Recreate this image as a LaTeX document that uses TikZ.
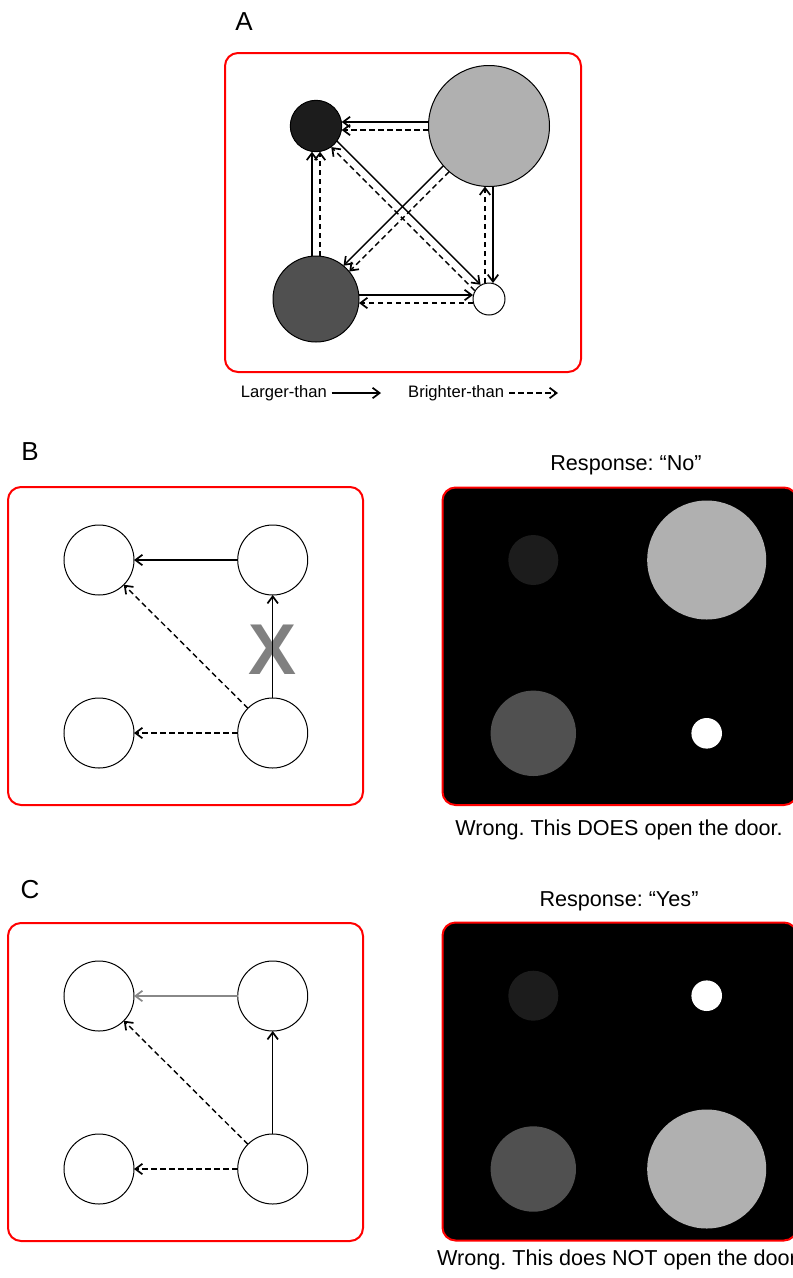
\documentclass[tikz,border=0pt]{standalone}
\usepackage{fontspec}
\setmainfont{Liberation Sans}
\usetikzlibrary{arrows.meta}
\definecolor{shadeA}{HTML}{1C1C1C}
\definecolor{shadeB}{HTML}{B0B0B0}
\definecolor{shadeC}{HTML}{505050}
\definecolor{xgray}{HTML}{808080}
\definecolor{fadedarrow}{HTML}{888888}
\frenchspacing
\begin{document}
\begin{tikzpicture}[x=1pt,y=-1pt,
  frame/.style={draw=red, line width=2pt, rounded corners=13pt},
  ball/.style={circle, draw=black, line width=1pt, inner sep=0pt, outer sep=0pt, minimum size=#1},
  dot/.style={circle, draw=none, inner sep=0pt, outer sep=0pt, minimum size=#1},
  larger/.style={draw, line width=1.4pt, -{Straight Barb[length=7pt,width=10.5pt,line width=1.7pt]}},
  brighter/.style={larger, dash pattern=on 5.5pt off 3.5pt},
  panellabel/.style={font=\fontsize{26}{30}\selectfont, inner sep=0pt},
  legendtext/.style={font=\fontsize{16.6}{20}\selectfont, inner sep=0pt},
  caption/.style={font=\fontsize{21.6}{26}\selectfont, inner sep=0pt}
]
\useasboundingbox (0,0) rectangle (793,1278);

% ---------------- Panel A: relation graph ----------------
\node[panellabel] (labA) at (244,22) {A};
\draw[frame] (225,53) rectangle (581,372);
\node[ball=51.4, fill=shadeA] (a1) at (316,126) {};
\node[ball=121, fill=shadeB] (a2) at (489,126) {};
\node[ball=86, fill=shadeC] (a3) at (316,299) {};
\node[ball=32, fill=white] (a4) at (489,299) {};

\draw[larger,   transform canvas={shift={(0,-4)}}] (a2) -- (a1);
\draw[brighter, transform canvas={shift={(0,4)}}]  (a2) -- (a1);
\draw[larger,   transform canvas={shift={(-4,0)}}] (a3) -- (a1);
\draw[brighter, transform canvas={shift={(4,0)}}]  (a3) -- (a1);
\draw[larger,   transform canvas={shift={(4,0)}}]  (a2) -- (a4);
\draw[brighter, transform canvas={shift={(-4,0)}}] (a4) -- (a2);
\draw[larger,   transform canvas={shift={(0,-4)}}] (a3) -- (a4);
\draw[brighter, transform canvas={shift={(0,4)}}]  (a4) -- (a3);
\draw[larger,   transform canvas={shift={(-2.9,-2.9)}}] (a2) -- (a3);
\draw[brighter, transform canvas={shift={(2.9,2.9)}}]   (a2) -- (a3);
\draw[larger,   transform canvas={shift={(2.9,-2.9)}}]  (a1) -- (a4);
\draw[brighter, transform canvas={shift={(-2.9,2.9)}}]  (a4) -- (a1);

% legend
\node[legendtext, anchor=east] (legL) at (327,393) {Larger-than};
\coordinate (legLs) at (331.5,393);
\coordinate (legLe) at (381,393);
\draw[larger] (legLs) -- (legLe);
\node[legendtext, anchor=west] (legB) at (408,393) {Brighter-than};
\coordinate (legBs) at (509,393);
\coordinate (legBe) at (558,393);
\draw[brighter] (legBs) -- (legBe);

% ---------------- Panel B ----------------
\node[panellabel] (labB) at (30,452) {B};
\draw[frame] (8,487) rectangle (363,805);
\node[ball=70, fill=white] (b1) at (99,560) {};
\node[ball=70, fill=white] (b2) at (272.7,560) {};
\node[ball=70, fill=white] (b3) at (99,733) {};
\node[ball=70, fill=white] (b4) at (272.7,733) {};
\node[text=xgray, font=\bfseries\fontsize{72}{72}\selectfont, inner sep=0pt] (bx) at (272.7,650) {X};
\draw[larger] (b2) -- (b1);
\draw[brighter] (b4) -- (b1);
\draw[larger] (b4) -- (b2);
\draw[brighter] (b4) -- (b3);

\node[caption] (respB) at (626,465) {Response: “No”};
\draw[frame, fill=black] (442.5,487.5) rectangle (797,805);
\node[dot=50, fill=shadeA] (bs1) at (533.3,560) {};
\node[dot=119, fill=shadeB] (bs2) at (706.7,560) {};
\node[dot=85.4, fill=shadeC] (bs3) at (533.3,733.3) {};
\node[dot=30.6, fill=white] (bs4) at (706.7,733.3) {};
\node[caption] (fbB) at (619,830) {Wrong. This DOES open the door.};

% ---------------- Panel C ----------------
\node[panellabel] (labC) at (30,890) {C};
\draw[frame] (8,923) rectangle (363,1241);
\node[ball=70, fill=white] (c1) at (99,996) {};
\node[ball=70, fill=white] (c2) at (272.7,996) {};
\node[ball=70, fill=white] (c3) at (99,1169) {};
\node[ball=70, fill=white] (c4) at (272.7,1169) {};
\draw[larger, draw=fadedarrow] (c2) -- (c1);
\draw[brighter] (c4) -- (c1);
\draw[larger] (c4) -- (c2);
\draw[brighter] (c4) -- (c3);

\node[caption] (respC) at (619,901.5) {Response: “Yes”};
\draw[frame, fill=black] (442.5,922.5) rectangle (797,1240.5);
\node[dot=50, fill=shadeA] (cs1) at (533.3,995.7) {};
\node[dot=30.6, fill=white] (cs2) at (706.7,995.7) {};
\node[dot=85.4, fill=shadeC] (cs3) at (533.3,1169) {};
\node[dot=119, fill=shadeB] (cs4) at (706.7,1169) {};
\node[caption, anchor=west] (fbC) at (437,1260) {Wrong. This does NOT open the door.};
\end{tikzpicture}
\end{document}
